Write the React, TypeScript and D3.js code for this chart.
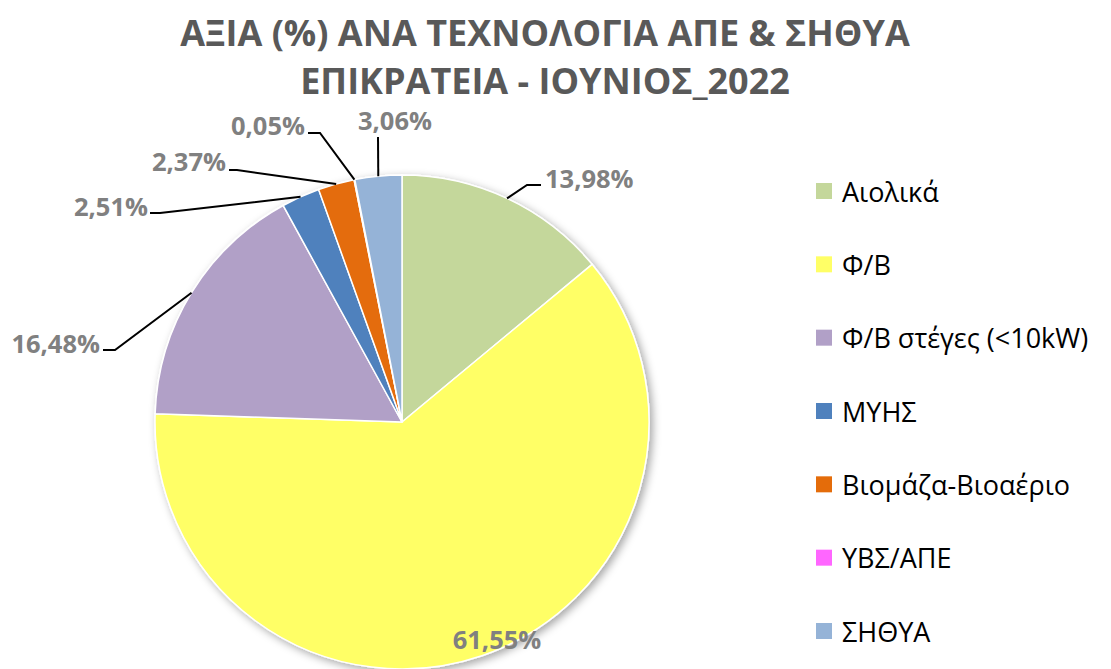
import React from "react";
import * as d3 from "d3";

const categories = ["Αιολικά", "Φ/Β", "Φ/Β στέγες (<10kW)", "ΜΥΗΣ", "Βιομάζα-Βιοαέριο", "ΥΒΣ/ΑΠΕ", "ΣΗΘΥΑ"];
const values = [13.98, 61.55, 16.48, 2.51, 2.37, 0.05, 3.06];
const valueLabels = ["13,98%", "61,55%", "16,48%", "2,51%", "2,37%", "0,05%", "3,06%"];
const colors = ["#C4D79B", "#FFFF66", "#B1A0C7", "#4F81BD", "#E46C0A", "#FF66FF", "#95B3D7"];
const titleLines = ["ΑΞΙΑ (%) ΑΝΑ ΤΕΧΝΟΛΟΓΙΑ ΑΠΕ & ΣΗΘΥΑ", "ΕΠΙΚΡΑΤΕΙΑ - ΙΟΥΝΙΟΣ_2022"];

// layout of data labels (label anchor point, text anchor, leader elbow)
type LabelLayout = { x: number; y: number; anchor: "start" | "middle" | "end"; lx?: number; ly?: number; elbow?: number };
const labelLayout: LabelLayout[] = [
  { x: 545, y: 179, anchor: "start", lx: 541, ly: 185, elbow: -14 },
  { x: 497, y: 640, anchor: "middle" },
  { x: 100, y: 344, anchor: "end", lx: 103, ly: 350, elbow: 12 },
  { x: 148, y: 207, anchor: "end", lx: 150, ly: 213, elbow: 10 },
  { x: 226, y: 162, anchor: "end", lx: 229, ly: 170, elbow: 8 },
  { x: 305, y: 126, anchor: "end", lx: 308, ly: 133, elbow: 12 },
  { x: 395, y: 121, anchor: "middle", lx: 378, ly: 137, elbow: 0 },
];

const FONT = "'Open Sans', 'Noto Sans', sans-serif";

export default function App() {
  const W = 1111, H = 669;
  const cx = 402, cy = 422, r = 247;
  const pie = d3.pie<number>().sort(null).value((d) => d);
  const arcs = pie(values);
  const arcGen = d3.arc<d3.PieArcDatum<number>>().innerRadius(0).outerRadius(r);

  const legendY = d3.scalePoint<string>().domain(categories).range([192, 632]);

  return (
    <svg width={W} height={H} style={{ position: "absolute", left: 0, top: 0, background: "#fff" }}>
      <defs>
        <filter id="sh" x="-20%" y="-20%" width="140%" height="140%">
          <feDropShadow dx="3" dy="3" stdDeviation="4" floodColor="#000" floodOpacity="0.35" />
        </filter>
      </defs>
      <g fontFamily={FONT}>
        {titleLines.map((t, i) => (
          <text key={i} x={545} y={46 + i * 48} textAnchor="middle" fontSize={36} fontWeight={700} fill="#595959">
            {t}
          </text>
        ))}
      </g>
      <g transform={`translate(${cx},${cy})`}>
        <g filter="url(#sh)">
          {arcs.map((a, i) => (
            <path key={i} d={arcGen(a) || ""} fill={colors[i]} stroke="#fff" strokeWidth={1.5} />
          ))}
        </g>
      </g>
      <g fontFamily={FONT}>
        {arcs.map((a, i) => {
          const L = labelLayout[i];
          const mid = (a.startAngle + a.endAngle) / 2;
          const px = cx + Math.sin(mid) * r;
          const py = cy - Math.cos(mid) * r;
          let line: string | null = null;
          if (L.lx !== undefined && L.ly !== undefined) {
            const ex = L.lx + (L.elbow || 0);
            line = `M${L.lx},${L.ly}L${ex},${L.ly}L${px},${py}`;
          }
          return (
            <g key={i}>
              {line && <path d={line} fill="none" stroke="#000" strokeWidth={2} />}
              <text x={L.x} y={L.y} dy="0.36em" textAnchor={L.anchor} fontSize={25.5} fontWeight={700} fill="#808080">
                {valueLabels[i]}
              </text>
            </g>
          );
        })}
      </g>
      <g fontFamily={FONT}>
        {categories.map((c, i) => (
          <g key={c} transform={`translate(816,${(legendY(c) || 0) - 1})`}>
            <rect x={0} y={-8} width={16} height={16} fill={colors[i]} />
            <text x={26} y={1} dy="0.36em" fontSize={27} fill="#000">
              {c}
            </text>
          </g>
        ))}
      </g>
    </svg>
  );
}
